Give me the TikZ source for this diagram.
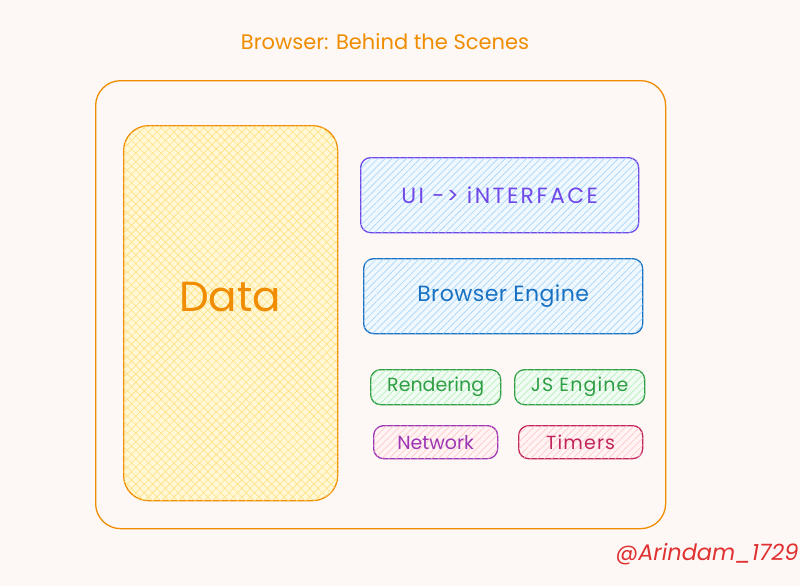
\documentclass[tikz,border=0pt]{standalone}
\usepackage{fontspec}
\setmainfont{Poppins}
\usetikzlibrary{patterns.meta}

\definecolor{paper}{RGB}{253,248,246}
\definecolor{orangeink}{RGB}{240,140,0}
\definecolor{yellowfill}{RGB}{255,247,214}
\definecolor{yellowhatch}{RGB}{255,226,130}
\definecolor{violetink}{RGB}{112,72,232}
\definecolor{blueink}{RGB}{25,113,194}
\definecolor{bluefill}{RGB}{240,247,253}
\definecolor{bluehatch}{RGB}{165,216,255}
\definecolor{greenink}{RGB}{47,158,68}
\definecolor{greenfill}{RGB}{242,251,243}
\definecolor{greenhatch}{RGB}{178,242,187}
\definecolor{grapeink}{RGB}{156,54,181}
\definecolor{crimsonink}{RGB}{194,37,92}
\definecolor{pinkfill}{RGB}{255,243,243}
\definecolor{pinkhatch}{RGB}{255,201,201}
\definecolor{redink}{RGB}{224,49,49}

\begin{document}
\begin{tikzpicture}[x=1pt,y=-1pt,
  box/.style={draw, line width=1.3pt, rounded corners=10pt, inner sep=0pt, anchor=north west},
  bluebox/.style={box, fill=bluefill, minimum width=278pt, minimum height=75pt, font=\fontsize{22}{26}\selectfont,
    postaction={pattern={Lines[angle=45,distance=5pt,line width=0.7pt]}, pattern color=bluehatch}},
  greenbox/.style={box, fill=greenfill, minimum width=130pt, minimum height=35pt, font=\fontsize{19}{22}\selectfont,
    postaction={pattern={Lines[angle=45,distance=5pt,line width=0.7pt]}, pattern color=greenhatch}},
  pinkbox/.style={box, fill=pinkfill, minimum width=124pt, minimum height=33pt, font=\fontsize{19}{22}\selectfont,
    postaction={pattern={Lines[angle=45,distance=5pt,line width=0.7pt]}, pattern color=pinkhatch}}]
	\fill[paper] (0,0) rectangle (800,586);
	\useasboundingbox (0,0) rectangle (800,586);

	% title
	\node[text=orangeink, font=\fontsize{21}{25}\selectfont] (title) at (385,42) {Browser: Behind the Scenes};

	% outer frame
	\node[box, draw=orangeink, rounded corners=25pt, minimum width=570pt, minimum height=448pt] (browser) at (95,80) {};

	% data store
	\node[box, draw=orangeink, rounded corners=25pt, fill=yellowfill, minimum width=214pt, minimum height=375pt,
	  postaction={pattern={Hatch[angle=45,distance=6pt,line width=0.6pt]}, pattern color=yellowhatch}] (data) at (123,125) {};
	\node[text=orangeink, font=\fontsize{42}{50}\selectfont] (datatext) at (230,297) {Data};

	% interface and engine
	\node[bluebox, draw=violetink, text=violetink] (ui) at (360,157) {\addfontfeature{LetterSpace=11}UI -> iNTERFACE};
	\node[bluebox, draw=blueink, text=blueink, minimum width=279pt, font=\fontsize{22}{26}\selectfont\addfontfeature{LetterSpace=2}] (engine) at (363,258) {Browser Engine};

	% components
	\node[greenbox, draw=greenink, text=greenink] (render) at (370,369) {Rendering};
	\node[greenbox, draw=greenink, text=greenink] (js) at (514,369) {\addfontfeature{LetterSpace=6}JS Engine};
	\node[pinkbox, draw=grapeink, text=grapeink] (net) at (373,425) {Network};
	\node[pinkbox, draw=crimsonink, text=crimsonink] (timers) at (518,425) {\addfontfeature{LetterSpace=6}Timers};

	% signature
	\node[text=redink, font=\fontsize{22.5}{26}\selectfont\itshape] (sign) at (707,554) {@Arindam\_1729};

\end{tikzpicture}
\end{document}
